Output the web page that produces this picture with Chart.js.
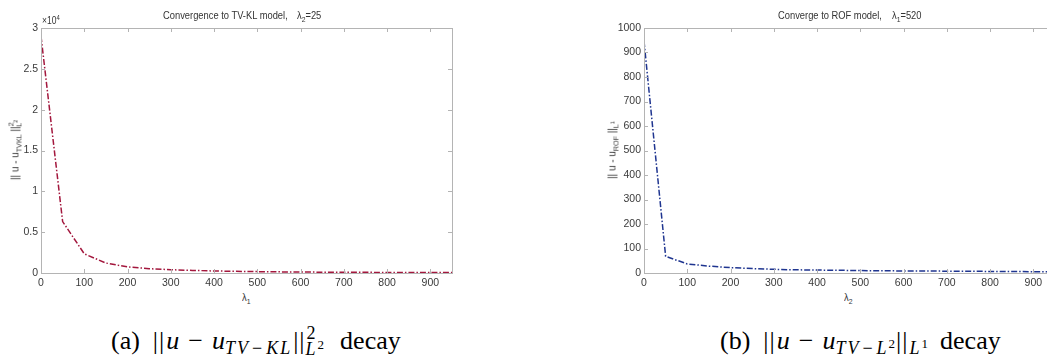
<!DOCTYPE html>
<html>
<head>
<meta charset="utf-8">
<script src="https://cdn.jsdelivr.net/npm/chart.js@4"></script>
<style>
  html, body { margin: 0; padding: 0; background: #fff; width: 1047px; height: 364px; overflow: hidden; }
  body { position: relative; font-family: 'Liberation Sans', Arial, sans-serif; color: #333; }
  canvas { position: absolute; top: 0; }
  .lbl { position: absolute; font-size: 11px; white-space: nowrap; line-height: 1; transform-origin: 0 0; }
  .nar { transform: scaleX(0.85); }
  .lbl sub, .lbl sup { font-size: 8px; line-height: 0; }
  .ylab { transform: translate(-50%, -50%) rotate(-90deg) scaleX(0.9); transform-origin: 50% 50%; }
  .cap { position: absolute; font-family: 'Liberation Serif', 'DejaVu Serif', serif; font-size: 26px; color: #000; white-space: nowrap; line-height: 1; }
  .cap i { font-style: italic; }
  .cap .s { font-size: 18px; position: relative; letter-spacing: 2px; }
  .cap .ss { font-size: 13px; position: relative; top: -6px; letter-spacing: 0; }
  .cap .m { margin: 0 2px; }
  .cap .bar { letter-spacing: 1px; margin: 0 1px; }
  .cap .op { margin: 0 9px; }
  .cap .tag { margin-right: 12px; }
</style>
</head>
<body>
<canvas id="chartKL" width="470" height="290" style="left:0px"></canvas>
<canvas id="chartROF" width="520" height="290" style="left:560px"></canvas>

<div class="lbl nar" style="left:163px; top:10px;">Convergence to TV-KL model,</div>
<div class="lbl nar" style="left:297px; top:10px;">λ<sub>2</sub>=25</div>
<div class="lbl nar" style="left:42px; top:16px; font-size:10px;">×10<sup style="font-size:7px">4</sup></div>
<div class="lbl ylab" style="left:15px; top:150px;">|| u - u<sub>TVKL</sub> ||<sup>2</sup><sub style="margin-left:-5px">L<sup style="font-size:6px">2</sup></sub></div>
<div class="lbl nar" style="left:242px; top:292px;">λ<sub>1</sub></div>

<div class="lbl nar" style="left:778px; top:10px;">Converge to ROF model,</div>
<div class="lbl nar" style="left:892px; top:10px;">λ<sub>1</sub>=520</div>
<div class="lbl ylab" style="left:612px; top:150px;">|| u - u<sub>ROF</sub> ||<sub>L<sup style="font-size:6px">1</sup></sub></div>
<div class="lbl nar" style="left:844px; top:292px;">λ<sub>2</sub></div>

<div class="cap" style="left:111px; top:328px;"><span class="tag">(a)</span><span class="bar">||</span><i>u</i><span class="op">−</span><i>u</i><span class="s" style="top:5px"><i>TV</i><span class="m">−</span><i>KL</i></span><span class="bar">||</span><span class="s" style="top:-10px">2</span><span class="s" style="top:6px; margin-left:-12px"><i>L</i><span class="ss">2</span></span><span style="margin-left:16px">decay</span></div>
<div class="cap" style="left:720px; top:328px;"><span class="tag">(b)</span><span class="bar">||</span><i>u</i><span class="op">−</span><i>u</i><span class="s" style="top:5px"><i>TV</i><span class="m">−</span><i>L</i><span class="ss">2</span></span><span class="bar">||</span><span class="s" style="top:5px"><i>L</i><span class="ss">1</span></span><span style="margin-left:12px">decay</span></div>

<script>
// lambda values (same grid for both experiments)
const lambdas = [0, 50, 100, 150, 200, 250, 300, 350, 400, 450, 500, 550, 600, 650, 700, 750, 800, 850, 900, 950];

// (a) ||u - u_TVKL||^2_L2 , lambda_2 = 25
const errKL = [29000, 6300, 2350, 1220, 750, 530, 400, 320, 250, 200, 170, 140, 120, 100, 90, 80, 70, 60, 55, 50];

// (b) ||u - u_ROF||_L1 , lambda_1 = 520
const errROF = [947, 68, 37, 28, 22, 18, 15, 13, 12, 11, 10, 9, 8.5, 8, 7.5, 7, 6.5, 6, 5.5, 5];

const tickFont = { family: "'Liberation Sans', Arial, sans-serif", size: 10.5 };
const boxColor = '#b4b4b4';

// matlab-like box with inward tick marks on all four sides
const boxPlugin = {
    id: 'matlabBox',
    afterDraw(chart) {
        const { ctx, chartArea: a, scales } = chart;
        ctx.save();
        ctx.strokeStyle = boxColor;
        ctx.lineWidth = 1;
        ctx.strokeRect(a.left + 0.5, a.top + 0.5, a.right - a.left, a.bottom - a.top);
        ctx.beginPath();
        scales.x.ticks.forEach(t => {
            const px = Math.round(scales.x.getPixelForValue(t.value)) + 0.5;
            ctx.moveTo(px, a.bottom); ctx.lineTo(px, a.bottom - 4);
            ctx.moveTo(px, a.top); ctx.lineTo(px, a.top + 4);
        });
        scales.y.ticks.forEach(t => {
            const py = Math.round(scales.y.getPixelForValue(t.value)) + 0.5;
            ctx.moveTo(a.left, py); ctx.lineTo(a.left + 4, py);
            ctx.moveTo(a.right, py); ctx.lineTo(a.right - 4, py);
        });
        ctx.stroke();
        ctx.restore();
    }
};

function makeChart(id, values, color, yMax, yStep, yWidth, padRight, yFormat) {
    const ctx = document.getElementById(id).getContext('2d');
    return new Chart(ctx, {
        type: 'line',
        data: {
            datasets: [{
                data: lambdas.map((x, i) => ({ x: x, y: values[i] })),
                borderColor: color,
                borderWidth: 1.5,
                borderDash: [6, 2, 1.5, 2],
                pointRadius: 0,
                tension: 0,
                fill: false
            }]
        },
        options: {
            responsive: false,
            animation: false,
            devicePixelRatio: 1,
            layout: { padding: { top: 28, right: padRight, left: 0, bottom: 0 } },
            plugins: { legend: { display: false }, title: { display: false }, tooltip: { enabled: false } },
            scales: {
                x: {
                    type: 'linear',
                    min: 0,
                    max: 950,
                    grid: { display: false, drawTicks: false },
                    border: { display: false },
                    ticks: { stepSize: 100, includeBounds: false, maxRotation: 0, autoSkip: false, padding: 4, color: '#3a3a3a', font: tickFont },
                    afterFit(scale) { scale.height = 17; }
                },
                y: {
                    min: 0,
                    max: yMax,
                    grid: { display: false, drawTicks: false },
                    border: { display: false },
                    ticks: { stepSize: yStep, padding: 3, color: '#3a3a3a', font: tickFont, callback: yFormat },
                    afterFit(scale) { scale.width = yWidth; }
                }
            }
        },
        plugins: [boxPlugin]
    });
}

makeChart('chartKL', errKL, '#a3173d', 30000, 5000, 41, 18, v => String(v / 10000));
makeChart('chartROF', errROF, '#1f3590', 1000, 100, 84, 25, v => String(v));
</script>
</body>
</html>
